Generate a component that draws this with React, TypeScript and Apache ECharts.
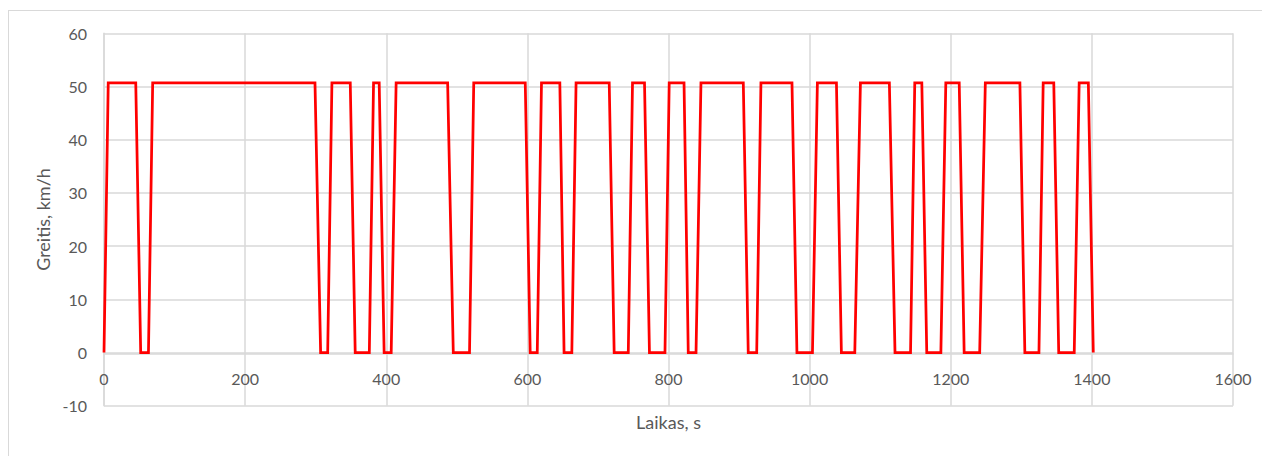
import React, { useEffect, useRef } from "react";
import * as echarts from "echarts";

const V = 50.7;
const timeS: number[] = [
  0, 6, 45, 52, 63, 69, 299, 307, 317, 323, 349, 356, 376, 382, 390, 397, 407, 414,
  487, 495, 518, 524, 597, 604, 614, 620, 646, 652, 663, 669, 716, 723, 743, 749,
  766, 773, 795, 801, 822, 828, 839, 846, 906, 913, 925, 931, 975, 982, 1004, 1011,
  1038, 1045, 1064, 1072, 1113, 1121, 1143, 1149, 1159, 1166, 1186, 1193, 1212, 1219,
  1241, 1249, 1298, 1305, 1325, 1331, 1346, 1353, 1375, 1382, 1395, 1402,
];
const speedKmh: number[] = [
  0, V, V, 0, 0, V, V, 0, 0, V, V, 0, 0, V, V, 0, 0, V,
  V, 0, 0, V, V, 0, 0, V, V, 0, 0, V, V, 0, 0, V,
  V, 0, 0, V, V, 0, 0, V, V, 0, 0, V, V, 0, 0, V,
  V, 0, 0, V, V, 0, 0, V, V, 0, 0, V, V, 0,
  0, V, V, 0, 0, V, V, 0, 0, V, V, 0,
];

const xTitle = "Laikas, s";
const yTitle = "Greitis, km/h";

export default function App() {
  const ref = useRef<HTMLDivElement>(null);
  useEffect(() => {
    if (!ref.current) return;
    const chart = echarts.init(ref.current, undefined, { renderer: "svg" });
    const font = "Lato, 'Open Sans', sans-serif";
    const grey = "#595959";
    const gridC = "#d9d9d9";
    chart.setOption({
      animation: false,
      backgroundColor: "transparent",
      grid: {
        left: 104,
        top: 33.3,
        right: 29,
        bottom: 50.3,
        containLabel: false,
        outerBoundsMode: "none",
      },
      xAxis: {
        type: "value",
        min: 0,
        max: 1600,
        interval: 200,
        offset: -52.4,
        name: xTitle,
        nameLocation: "middle",
        nameGap: 60,
        nameTextStyle: { color: grey, fontSize: 18, fontFamily: font },
        axisLine: { show: true, onZero: false, lineStyle: { color: gridC, width: 1.5 } },
        axisTick: { show: false },
        axisLabel: {
          color: grey,
          fontSize: 16,
          fontFamily: font,
          margin: 17,
          formatter: (v: number) => String(v),
        },
        splitLine: { show: true, lineStyle: { color: gridC, width: 1.5 } },
      },
      yAxis: {
        type: "value",
        min: -10,
        max: 60,
        interval: 10,
        name: yTitle,
        nameLocation: "middle",
        nameGap: 48,
        nameRotate: 90,
        nameTextStyle: { color: grey, fontSize: 18, fontFamily: font },
        axisLine: { show: true, lineStyle: { color: gridC, width: 1.5 } },
        axisTick: { show: false },
        axisLabel: { color: grey, fontSize: 16, fontFamily: font, margin: 17 },
        splitLine: { show: true, lineStyle: { color: gridC, width: 1.5 } },
      },
      series: [
        {
          type: "line",
          data: timeS.map((t, i) => [t, speedKmh[i]]),
          showSymbol: false,
          symbol: "none",
          lineStyle: { color: "#ff0000", width: 2.75, join: "miter" },
          itemStyle: { color: "#ff0000" },
        },
      ],
    });
    return () => chart.dispose();
  }, []);
  return (
    <div style={{ position: "fixed", left: 0, top: 0, width: 1262, height: 456, background: "#fff" }}>
      <div
        style={{
          position: "absolute",
          left: 8,
          top: 10,
          width: 1262,
          height: 460,
          border: "1.5px solid #d9d9d9",
          boxSizing: "border-box",
        }}
      />
      <div ref={ref} style={{ position: "absolute", left: 0, top: 0, width: 1262, height: 456 }} />
    </div>
  );
}
